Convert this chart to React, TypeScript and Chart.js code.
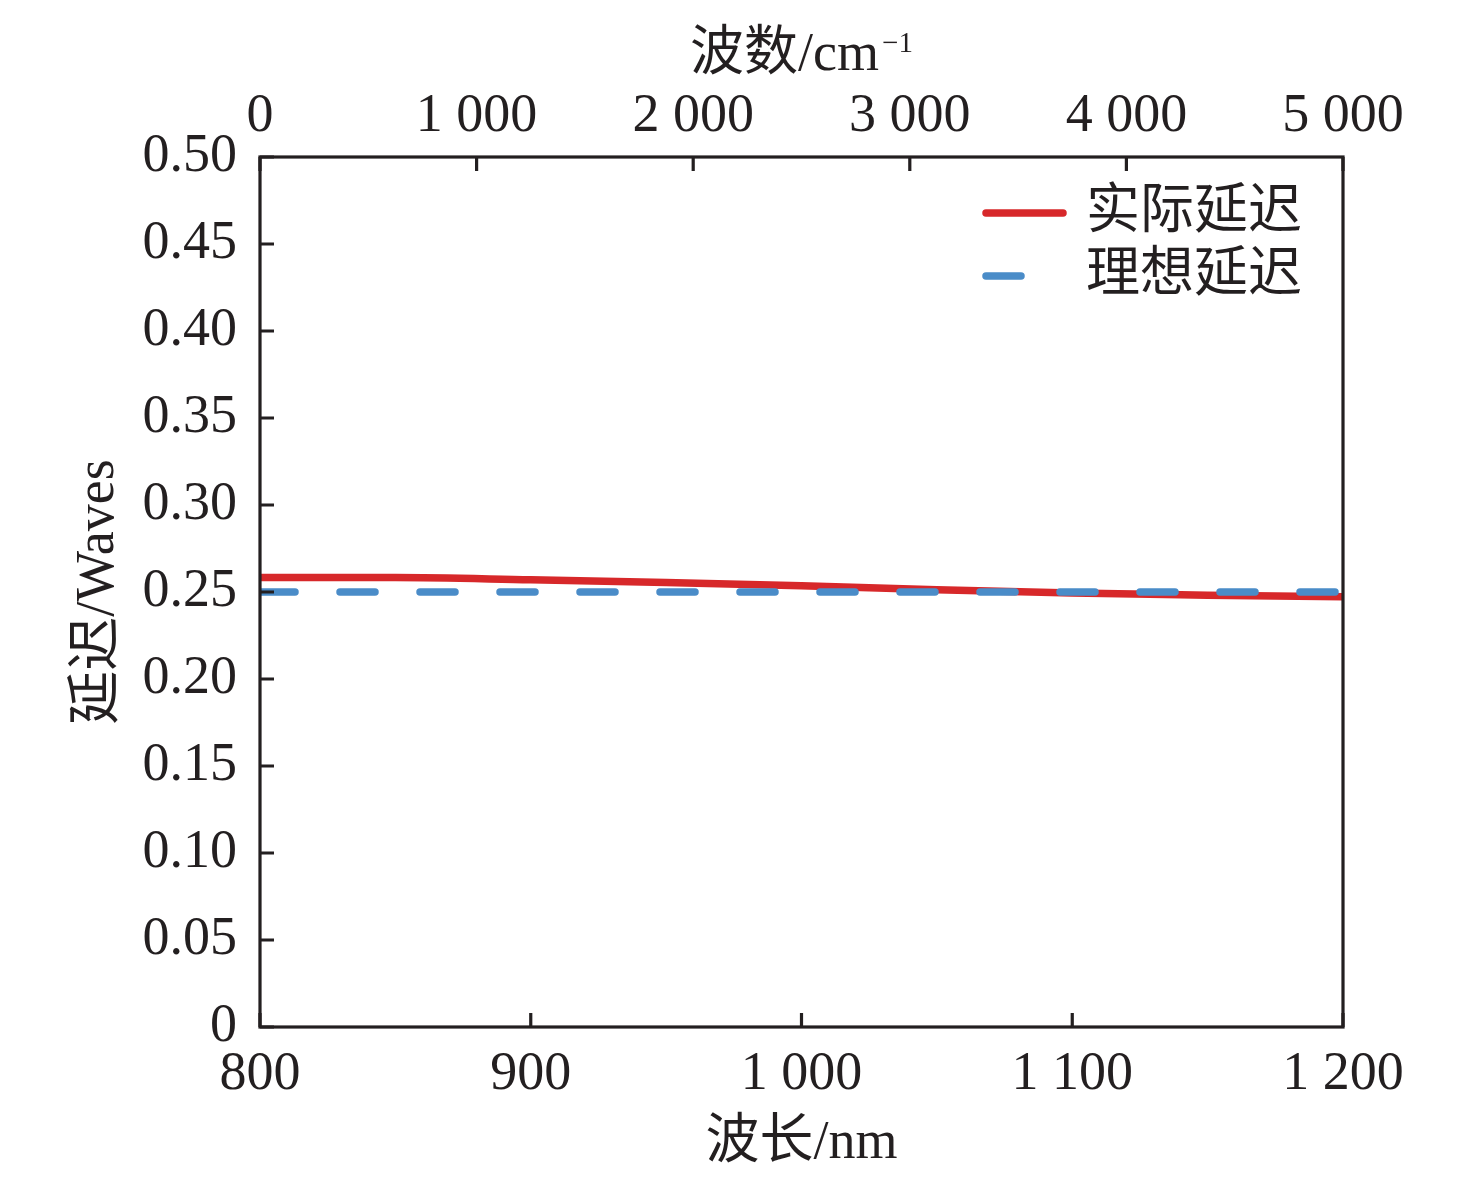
import React, { useEffect, useRef } from "react";
import { Chart, registerables } from "chart.js";

Chart.register(...registerables);

const wavelengths = [800, 850, 900, 950, 1000, 1050, 1100, 1150, 1200];
const actualRetardance = [0.2583, 0.2583, 0.257, 0.2555, 0.2536, 0.2513, 0.2494, 0.2482, 0.2472];
const idealWavelengths = [800, 1200];
const idealRetardance = [0.25, 0.25];
const seriesNames = ["实际延迟", "理想延迟"];
const bottomTitle = "波长/nm";
const topTitleMain = "波数/cm";
const topTitleSup = "−1";
const leftTitle = "延迟/Waves";

const RED = "#d7282a";
const BLUE = "#4a8cc8";
const INK = "#231f20";
const FONT = "'Liberation Serif', 'Noto Sans CJK SC', serif";
const FS = 54;

const fmtThousands = (v: number) =>
  String(Math.round(v)).replace(/\B(?=(\d{3})+(?!\d))/g, " ");

const framePlugin = {
  id: "frame",
  afterDatasetsDraw(chart: any) {
    const { ctx, chartArea } = chart;
    const { left, right, top, bottom } = chartArea;
    ctx.save();
    ctx.strokeStyle = INK;
    ctx.lineWidth = 3.2;
    const tl = 14;
    // inward ticks
    ctx.beginPath();
    const xs = chart.scales.x;
    xs.ticks.forEach((t: any) => {
      const px = xs.getPixelForValue(t.value);
      ctx.moveTo(px, bottom);
      ctx.lineTo(px, bottom - tl);
    });
    const x2 = chart.scales.x2;
    x2.ticks.forEach((t: any) => {
      const px = x2.getPixelForValue(t.value);
      ctx.moveTo(px, top);
      ctx.lineTo(px, top + tl);
    });
    const ys = chart.scales.y;
    ys.ticks.forEach((t: any) => {
      const py = ys.getPixelForValue(t.value);
      ctx.moveTo(left, py);
      ctx.lineTo(left + tl, py);
    });
    ctx.stroke();
    ctx.strokeRect(left, top, right - left, bottom - top);

    // top title with superscript
    ctx.fillStyle = INK;
    ctx.textBaseline = "alphabetic";
    ctx.font = `${FS}px ${FONT}`;
    const mainW = ctx.measureText(topTitleMain).width;
    ctx.font = `29px ${FONT}`;
    const supW = ctx.measureText(topTitleSup).width;
    const cx = (left + right) / 2;
    const startX = cx - (mainW + supW + 3) / 2;
    ctx.font = `${FS}px ${FONT}`;
    ctx.textAlign = "left";
    ctx.fillText(topTitleMain, startX, x2.top + 70);
    ctx.font = `29px ${FONT}`;
    ctx.fillText(topTitleSup, startX + mainW + 3, x2.top + 52);

    // legend
    const lx = right - 361;
    const items = [
      { y: top + 56, color: RED, len: 85 },
      { y: top + 119, color: BLUE, len: 43 },
    ];
    items.forEach((it, i) => {
      ctx.beginPath();
      ctx.strokeStyle = it.color;
      ctx.lineWidth = 7.5;
      ctx.lineCap = "round";
      ctx.moveTo(lx + 4, it.y);
      ctx.lineTo(lx + it.len - 4, it.y);
      ctx.stroke();
      ctx.fillStyle = INK;
      ctx.font = `${FS}px ${FONT}`;
      ctx.textBaseline = "middle";
      ctx.textAlign = "left";
      ctx.fillText(seriesNames[i], lx + 104, it.y + 1);
    });
    ctx.restore();
  },
};

export default function App() {
  const ref = useRef<HTMLCanvasElement | null>(null);
  useEffect(() => {
    if (!ref.current) return;
    const chart = new Chart(ref.current, {
      type: "line",
      data: {
        datasets: [
          {
            label: seriesNames[0],
            data: wavelengths.map((w, i) => ({ x: w, y: actualRetardance[i] })),
            borderColor: RED,
            borderWidth: 7.5,
            pointRadius: 0,
            cubicInterpolationMode: "monotone",
            fill: false,
            order: 1,
            xAxisID: "x",
            yAxisID: "y",
          },
          {
            label: seriesNames[1],
            data: idealWavelengths.map((w, i) => ({ x: w, y: idealRetardance[i] })),
            borderColor: BLUE,
            borderWidth: 7.5,
            borderDash: [35, 45],
            borderCapStyle: "round",
            pointRadius: 0,
            fill: false,
            order: 0,
            xAxisID: "x",
            yAxisID: "y",
          },
        ],
      },
      options: {
        responsive: false,
        animation: false,
        devicePixelRatio: 1,
        layout: { padding: { right: 133, left: 0, top: 0, bottom: 0 } },
        plugins: {
          legend: { display: false },
          tooltip: { enabled: false },
        },
        scales: {
          x: {
            type: "linear",
            position: "bottom",
            min: 800,
            max: 1200,
            ticks: {
              stepSize: 100,
              padding: 15,
              color: INK,
              font: { family: FONT, size: FS },
              maxRotation: 0,
              callback: (v: any) => fmtThousands(Number(v)),
            },
            grid: { display: false, drawTicks: false },
            border: { display: false },
            title: {
              display: true,
              text: bottomTitle,
              color: INK,
              font: { family: FONT, size: FS },
              padding: { top: 0, bottom: 5 },
            },
            afterFit: (s: any) => {
              s.height = 154;
            },
          },
          x2: {
            type: "linear",
            position: "top",
            min: 0,
            max: 5000,
            ticks: {
              stepSize: 1000,
              padding: 8,
              color: INK,
              font: { family: FONT, size: FS },
              maxRotation: 0,
              callback: (v: any) => fmtThousands(Number(v)),
            },
            grid: { display: false, drawTicks: false },
            border: { display: false },
            afterFit: (s: any) => {
              s.height = 157;
            },
          },
          y: {
            type: "linear",
            position: "left",
            min: 0,
            max: 0.5,
            ticks: {
              stepSize: 0.05,
              padding: 23,
              color: INK,
              font: { family: FONT, size: FS },
              callback: (v: any) => {
                const n = Number(v);
                return Math.abs(n) < 1e-9 ? "0" : n.toFixed(2);
              },
            },
            grid: { display: false, drawTicks: false },
            border: { display: false },
            title: {
              display: true,
              text: leftTitle,
              color: INK,
              font: { family: FONT, size: FS },
              padding: { top: 66, bottom: 0 },
            },
            afterFit: (s: any) => {
              s.width = 260;
            },
          },
        },
      },
      plugins: [framePlugin],
    });
    return () => chart.destroy();
  }, []);
  return (
    <canvas
      ref={ref}
      width={1476}
      height={1181}
      style={{ position: "fixed", left: 0, top: 0, width: 1476, height: 1181, display: "block", background: "#fff" }}
    />
  );
}
